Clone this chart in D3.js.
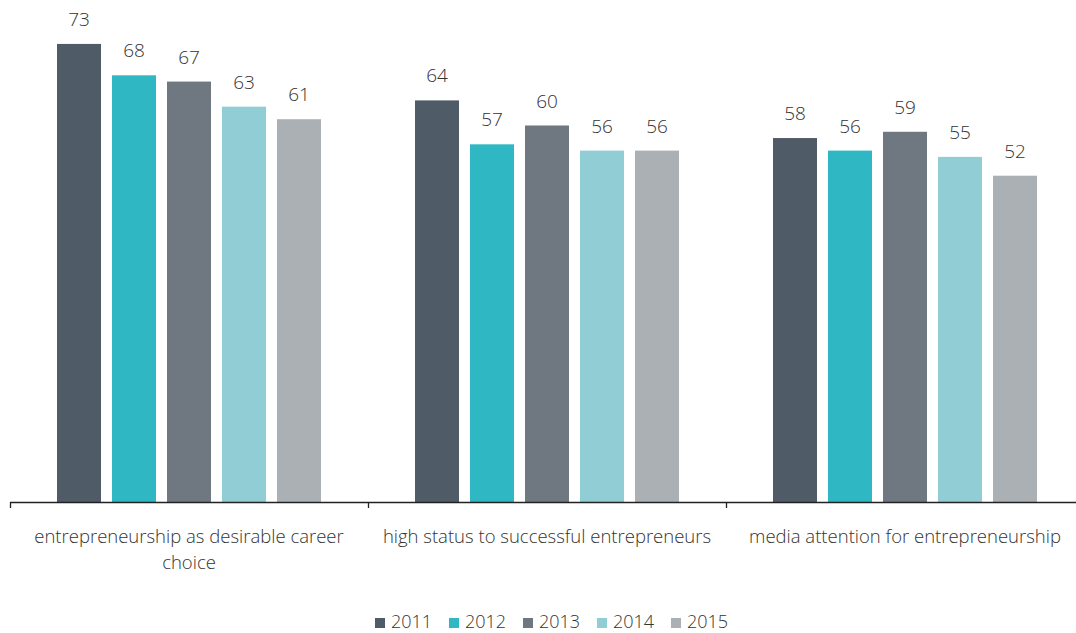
<!DOCTYPE html>
<html>
<head>
<meta charset="utf-8">
<script src="https://cdn.jsdelivr.net/npm/d3@7"></script>
<style>
  body { margin: 0; background: #fff; }
  text { font-family: "Open Sans", "Segoe UI", sans-serif; font-weight: 300; fill: #333; }
</style>
</head>
<body>
<script>
// chart data
const categories = [
    "entrepreneurship as desirable career choice",
    "high status to successful entrepreneurs",
    "media attention for entrepreneurship"
];
const years = ["2011", "2012", "2013", "2014", "2015"];
const values2011 = [73, 64, 58];
const values2012 = [68, 57, 56];
const values2013 = [67, 60, 59];
const values2014 = [63, 56, 55];
const values2015 = [61, 56, 52];
const colors = ["#4f5b66", "#2fb8c3", "#6f7780", "#91cdd4", "#abb0b4"];

const series = [values2011, values2012, values2013, values2014, values2015];

const width = 1076, height = 633;
const baseY = 502;

const svg = d3.select("body").append("svg")
    .attr("width", width)
    .attr("height", height);

// outer band for each category, inner band for each year
const x0 = d3.scaleBand().domain(categories).range([10, 1084]);
const x1 = d3.scaleBand().domain(years).range([47, 311]).paddingInner(0.2);
const y = d3.scaleLinear().domain([0, 80]).range([baseY, 0]);
const color = d3.scaleOrdinal().domain(years).range(colors);

const rows = categories.map((c, i) => ({
    cat: c,
    vals: years.map((yr, j) => ({ year: yr, value: series[j][i] }))
}));

const groups = svg.selectAll(".group")
    .data(rows)
    .enter().append("g")
    .attr("class", "group")
    .attr("transform", d => `translate(${x0(d.cat)},0)`);

groups.selectAll("rect")
    .data(d => d.vals)
    .enter().append("rect")
    .attr("x", d => x1(d.year))
    .attr("y", d => y(d.value))
    .attr("width", x1.bandwidth())
    .attr("height", d => baseY - y(d.value))
    .style("fill", d => color(d.year));

groups.selectAll(".val")
    .data(d => d.vals)
    .enter().append("text")
    .attr("class", "val")
    .attr("x", d => x1(d.year) + x1.bandwidth() / 2)
    .attr("y", d => y(d.value) - 18)
    .attr("text-anchor", "middle")
    .style("font-size", "19px")
    .text(d => d.value);

// x axis with ticks at band edges
const axis = svg.append("g");
axis.append("line")
    .attr("x1", 10).attr("x2", width)
    .attr("y1", baseY + 0.5).attr("y2", baseY + 0.5)
    .style("stroke", "#222").style("stroke-width", 1.3);
const edges = categories.map(c => x0(c));
axis.selectAll(".tick")
    .data(edges)
    .enter().append("line")
    .attr("x1", d => d + 0.5).attr("x2", d => d + 0.5)
    .attr("y1", baseY).attr("y2", baseY + 6)
    .style("stroke", "#222").style("stroke-width", 1.3);

// category labels, wrapped
const catLabel = svg.selectAll(".cat")
    .data(categories)
    .enter().append("text")
    .attr("class", "cat")
    .attr("text-anchor", "middle")
    .style("font-size", "18.5px");

catLabel.each(function(d) {
    const t = d3.select(this);
    const cx = x0(d) + x0.bandwidth() / 2;
    const words = d.split(" ");
    let line = [], lineNo = 0;
    let tspan = t.append("tspan").attr("x", cx).attr("y", 543);
    words.forEach(w => {
        line.push(w);
        tspan.text(line.join(" "));
        if (tspan.node().getComputedTextLength() > 345 && line.length > 1) {
            line.pop();
            tspan.text(line.join(" "));
            line = [w];
            lineNo++;
            tspan = t.append("tspan").attr("x", cx).attr("y", 543 + lineNo * 26).text(w);
        }
    });
});

// legend
const legend = svg.selectAll(".legend")
    .data(years)
    .enter().append("g")
    .attr("class", "legend")
    .attr("transform", (d, i) => `translate(${375 + i * 74},618)`);

legend.append("rect")
    .attr("width", 10).attr("height", 10)
    .style("fill", d => color(d));

legend.append("text")
    .attr("x", 16).attr("y", 10)
    .style("font-size", "18px")
    .text(d => d);
</script>
</body>
</html>
